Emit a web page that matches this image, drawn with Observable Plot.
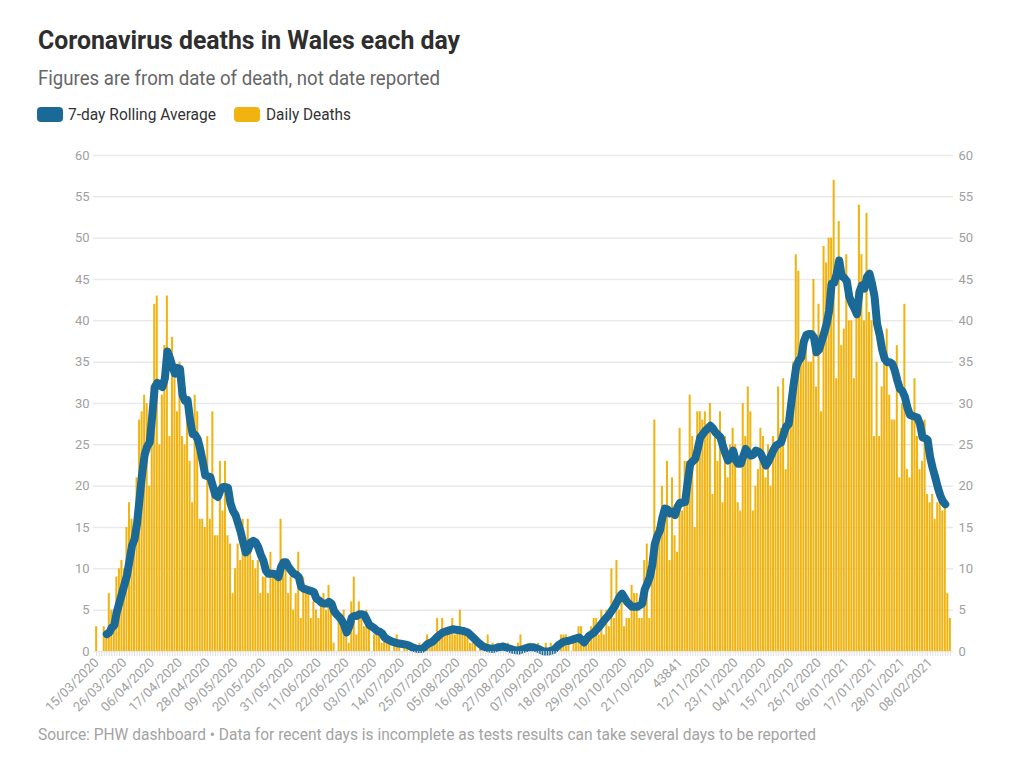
<!DOCTYPE html>
<html>
<head>
<meta charset="utf-8">
<script src="https://cdn.jsdelivr.net/npm/d3@7"></script>
<script src="https://cdn.jsdelivr.net/npm/@observablehq/plot@0.6"></script>
<style>
  html, body { margin: 0; padding: 0; background: #fff; }
  body { width: 1009px; height: 760px; position: relative; overflow: hidden; font-family: Roboto, "Noto Sans", sans-serif; }
  .t { position: absolute; white-space: nowrap; line-height: 1; transform-origin: 0 50%; display: inline-block; }
  #title { left: 38px; top: 27px; font-size: 26px; font-weight: 700; color: #2e2e2e; }
  #subtitle { left: 38px; top: 68px; font-size: 20px; color: #666; }
  .sw { position: absolute; width: 26px; height: 15px; border-radius: 4px; top: 107px; }
  .lg { top: 106px; font-size: 17px; color: #333; }
  #footer { left: 38px; top: 727px; font-size: 16.5px; color: #a3a3a3; }
  #chart { position: absolute; left: 0; top: 140px; }
</style>
</head>
<body>
<div class="t" id="title" data-w="422">Coronavirus deaths in Wales each day</div>
<div class="t" id="subtitle" data-w="402">Figures are from date of death, not date reported</div>
<div class="sw" id="sw1" style="left:37px"></div>
<div class="t lg" id="lg1" style="left:68px" data-w="148">7-day Rolling Average</div>
<div class="sw" id="sw2" style="left:234px"></div>
<div class="t lg" id="lg2" style="left:266px" data-w="85">Daily Deaths</div>
<div id="chart"></div>
<div class="t" id="footer" data-w="778">Source: PHW dashboard • Data for recent days is incomplete as tests results can take several days to be reported</div>
<script>
// ---------------- DATA ----------------
const startDate = "2020-03-15"; // first day of the daily series
const seriesNames = ["7-day Rolling Average", "Daily Deaths"];
const seriesColors = ["#1b6997", "#f0b30f"];

// daily deaths, one value per day starting at startDate
const dailyDeaths = [
  3,0,0,3,2,7,5,5,9,10,
  11,10,15,18,16,15,21,28,29,31,
  30,20,32,42,43,25,31,37,43,26,
  38,33,29,35,26,25,30,23,18,31,
  29,16,16,15,26,16,29,14,14,23,
  17,23,14,13,7,10,13,11,16,12,
  16,13,11,10,11,7,9,9,7,12,
  9,9,9,16,10,10,7,9,5,7,
  12,4,9,7,7,4,6,5,4,6,
  7,5,8,6,1,0,4,3,5,3,
  1,6,9,2,6,
  4,3,5,3,0,2,3,2,1,2,
  1,1,0,1,2,1,0,1,1,0,
  1,0,0,1,0,1,2,1,1,2,
  4,2,4,2,2,3,4,2,3,5,
  2,2,2,1,1,1,0,1,0,1,
  2,0,1,0,1,0,1,0,1,0,
  0,0,1,2,0,0,
  0,1,0,0,1,0,0,1,0,1,
  0,1,0,2,2,2,1,0,1,1,
  3,3,1,2,1,3,4,4,2,5,
  2,5,3,10,4,11,5,7,3,4,
  4,8,7,7,4,4,11,13,4,13,
  28,15,15,20,17,23,11,21,14,12,
  27,17,23,23,31,26,15,29,29,28,
  29,27,30,19,26,23,29,18,26,21,
  25,27,25,18,17,30,26,32,29,17,
  20,22,27,26,21,25,20,26,25,32,
  27,33,22,30,32,35,48,46,35,36,
  37,35,35,45,32,42,29,49,
  47,50,50,57,33,52,37,39,48,40,
  40,33,43,54,48,40,53,41,40,26,
  35,26,32,35,39,31,28,28,37,21,
  30,42,22,21,29,33,26,22,23,28,
  19,18,19,16,18,19,17,18,7,4
];

// 7-day rolling average: day offset (from startDate) and value
const avgDay = [
  4,5,6,7,8,10,12,13,14,15,16,17,18,19,20,21,22,23,24,25,26,27,28,29,30,31,32,33,34,35,36,37,38,39,40,
  41,42,43,44,45,46,47,48,49,50,51,52,53,54,55,56,57,58,59,60,61,62,63,64,65,66,67,68,69,70,71,72,73,74,75,
  76,77,78,79,80,81,82,83,84,85,86,87,88,89,90,91,92,93,94,95,96,97,98,99,100,101,102,103,104,105,106,107,108,109,110,
  111,112,113,114,115,117,119,121,123,125,127,129,131,133,135,137,139,141,143,145,147,149,151,153,155,157,159,161,163,165,167,169,171,173,175,
  177,179,181,183,185,187,189,191,193,195,197,199,201,203,205,207,208,209,210,212,214,216,217,218,219,220,221,222,223,224,225,226,227,228,229,
  230,231,232,233,234,235,236,237,238,239,240,241,242,243,244,245,246,247,248,249,250,251,252,253,254,255,256,257,258,259,260,261,262,263,264,
  265,266,267,268,269,270,271,272,273,274,275,276,277,278,279,280,281,282,283,284,285,286,287,288,289,290,291,292,293,294,295,296,297,298,299,
  300,301,302,303,304,305,306,307,308,309,310,311,312,313,314,315,316,317,318,319,320,321,322,323,324,325,326,327,328,329,330,331,332,333,334,
  335,336
];
const avgValue = [
  2.1,2.3,2.9,3.2,4.8,7,9.2,11,12.8,13.6,15.5,18.5,21.5,23.8,24.8,25.3,28.5,32,32.5,32.2,32,33,36.3,35.5,34.5,33.6,34.3,34.2,31,30.3,30.4,28,26.3,26.2,25.7,
  24.5,23,21.3,21.2,21.1,20,18.9,18.7,19.5,19.9,19.9,19.8,17.9,17,16.5,15.5,14.5,13.2,12,12.3,13.2,13.4,13.2,12.6,11.7,11,9.8,9.4,9.4,9.4,9.3,9,10.2,10.8,10.8,
  10.2,9.8,9.4,9.3,9,7.8,7.6,7.5,7.4,7.3,7.2,6.4,6.2,5.9,5.8,5.8,6,5.8,4.9,4.5,4.2,3.8,3.2,2.3,3,4.1,4.3,4.3,4.5,4.5,4.4,3.8,3.2,3,2.8,
  2.5,2.4,2.2,1.7,1.5,1.2,1,0.9,0.8,0.5,0.3,0.3,0.9,1.2,1.8,2.3,2.5,2.7,2.6,2.5,2.3,1.7,1.1,0.6,0.4,0.3,0.5,0.6,0.4,0.2,0.1,0.3,0.5,0.5,0.3,
  0,0,0.2,0.8,1.2,1.3,1.5,1.7,1.1,1.9,2.3,3,3.8,4.5,5.4,6.6,7,6.5,6,5.4,5.4,5.8,7.5,8.2,9,10.5,13,14,14.6,16.2,17.3,17.2,16.7,16.9,16.5,
  17.5,18,18,18.1,20.5,22.7,23,23.3,24.5,25.9,26.3,26.7,27,27.3,27,26.5,26.2,25.9,24.8,23.9,23.1,23.5,24.3,23.2,22.7,22.7,23.6,24.5,24,23.7,23.8,24.3,24.2,23.9,23.2,
  22.5,23,23.7,24.4,24.9,25.1,25.3,26.3,27.2,27.5,30,32.4,34.5,35.2,35.6,37.5,38.3,38.4,38.4,38,36.2,36.5,37.5,38.5,39.6,41.2,44.5,44.6,45.7,47.3,45.4,45.2,44.8,42.9,42.1,
  41.5,40.8,43.5,44.3,43.9,45.3,45.7,44.5,42.9,39.6,38.3,36.5,35.4,35,35,34.8,34,32.8,31.8,31.5,30.8,29.5,28.6,28.5,28.4,28.3,27.5,25.9,25.8,25.6,23.5,22.2,21.1,19.9,18.9,
  18.2,17.8
];

const yTicks = [0,5,10,15,20,25,30,35,40,45,50,55,60];
const xTickLabels = [
  "15/03/2020","26/03/2020","06/04/2020","17/04/2020","28/04/2020","09/05/2020","20/05/2020","31/05/2020",
  "11/06/2020","22/06/2020","03/07/2020","14/07/2020","25/07/2020","05/08/2020","16/08/2020","27/08/2020",
  "07/09/2020","18/09/2020","29/09/2020","10/10/2020","21/10/2020","43841","12/11/2020","23/11/2020",
  "04/12/2020","15/12/2020","26/12/2020","06/01/2021","17/01/2021","28/01/2021","08/02/2021"
];
const xTickEvery = 11;

// ---------------- BUILD ----------------
const fmt = d3.utcFormat("%Y-%m-%d");
const start = new Date(startDate + "T00:00:00Z");
const dates = dailyDeaths.map((_, i) => fmt(d3.utcDay.offset(start, i)));
const daily = dailyDeaths.map((v, i) => ({date: dates[i], deaths: v}));
const avg = avgDay.map((d, i) => ({date: dates[d], value: avgValue[i]}));
const tickDates = dates.filter((_, i) => i % xTickEvery === 0);
const tickLabel = new Map(tickDates.map((d, i) => [d, xTickLabels[i]]));

document.getElementById("sw1").style.background = seriesColors[0];
document.getElementById("sw2").style.background = seriesColors[1];

const chart = Plot.plot({
  width: 1009,
  height: 590,
  marginTop: 15,
  marginBottom: 79,
  marginLeft: 93,
  marginRight: 56,
  style: {fontFamily: "Roboto, sans-serif", fontSize: "13px", color: "#a0a0a0", background: "transparent"},
  x: {type: "band", domain: dates, paddingInner: 0.2, paddingOuter: 0.85, label: null},
  y: {domain: [0, 60], label: null},
  marks: [
    Plot.ruleY(yTicks, {stroke: "#e9e9e9", strokeWidth: 1.5}),
    Plot.barY(daily, {x: "date", y: "deaths", fill: seriesColors[1]}),
    Plot.line(avg, {x: "date", y: "value", stroke: seriesColors[0], strokeWidth: 8, strokeLinecap: "round", strokeLinejoin: "round"}),
    Plot.axisY({anchor: "left", ticks: yTicks, tickSize: 0, tickPadding: 4, label: null}),
    Plot.axisY({anchor: "right", ticks: yTicks, tickSize: 0, tickPadding: 5, label: null}),
    Plot.axisX({ticks: dates, tickSize: 5, tickFormat: () => "", stroke: "#e0e0e0", label: null}),
    Plot.axisX({ticks: tickDates, tickSize: 0, tickPadding: 9, tickRotate: -45, tickFormat: d => tickLabel.get(d), label: null})
  ]
});
document.getElementById("chart").appendChild(chart);

function fit() {
  document.querySelectorAll("[data-w]").forEach(el => {
    el.style.transform = "none";
    const w = el.getBoundingClientRect().width;
    if (w > 0) el.style.transform = `scaleX(${(+el.dataset.w / w).toFixed(4)})`;
  });
}
fit();
if (document.fonts && document.fonts.ready) document.fonts.ready.then(fit);
</script>
</body>
</html>
